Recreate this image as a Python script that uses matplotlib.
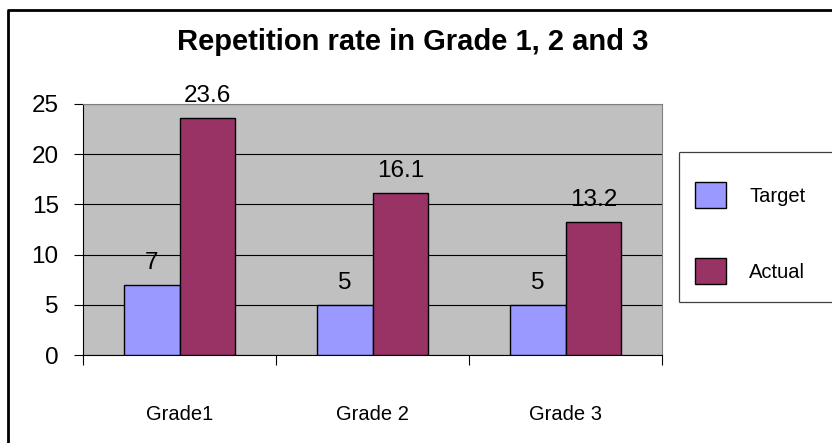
import matplotlib
matplotlib.use("Agg")
import matplotlib.pyplot as plt
from matplotlib.lines import Line2D
from matplotlib.patches import Rectangle
import numpy as np

categories = ["Grade1", "Grade 2", "Grade 3"]
target = [7, 5, 5]
actual = [23.6, 16.1, 13.2]
series_names = ["Target", "Actual"]
yticks = [0, 5, 10, 15, 20, 25]

plt.rcParams['font.family'] = ['Liberation Sans', 'DejaVu Sans']

W, H = 832, 443
fig = plt.figure(figsize=(W / 100, H / 100), dpi=100)
fig.patch.set_facecolor('white')

def fx(px):
    return px / W

def fy(py):
    return 1 - py / H

# plot area in pixels
L, R, T, B = 83, 662, 104, 355
ax = fig.add_axes([fx(L), fy(B), fx(R - L), (B - T) / H])
ax.set_facecolor('#C0C0C0')

x = np.arange(len(categories))
bw = 0.29
b1 = ax.bar(x - bw / 2, target, bw, color='#9999FF', edgecolor='black', linewidth=1.0,
            label=series_names[0], zorder=3)
b2 = ax.bar(x + bw / 2, actual, bw, color='#993366', edgecolor='black', linewidth=1.0,
            label=series_names[1], zorder=3)
ax.bar_label(b1, labels=[f"{v:g}" for v in target], padding=8, fontsize=17.5)
ax.bar_label(b2, labels=[f"{v:g}" for v in actual], padding=8, fontsize=17.5)

ax.set_xlim(-0.5, len(categories) - 0.5)
ax.set_ylim(0, 25)
ax.set_yticks(yticks)
ax.set_yticklabels([str(v) for v in yticks])
ax.tick_params(axis='y', direction='out', length=6.5, width=0.8, pad=11, labelsize=17.5)
ax.yaxis.grid(True, color='black', linewidth=0.8, zorder=1)
ax.set_axisbelow(True)

ax.set_xticks(x)
ax.set_xticklabels(categories)
ax.tick_params(axis='x', which='major', length=0, pad=36, labelsize=14.5)
ax.set_xticks(np.arange(len(categories) + 1) - 0.5, minor=True)
ax.tick_params(axis='x', which='minor', direction='out', length=7.2, width=0.8)

for s in ['left', 'bottom']:
    ax.spines[s].set_color('black')
    ax.spines[s].set_linewidth(0.8)
for s in ['top', 'right']:
    ax.spines[s].set_color('#808080')
    ax.spines[s].set_linewidth(0.8)

# title
fig.text(fx(413), fy(50), "Repetition rate in Grade 1, 2 and 3", ha='center', va='baseline',
         fontsize=21, fontweight='bold')

# legend box: open on the right (runs past the picture edge)
lx0, ly0, ly1 = 679, 152, 302
fig.patches.append(Rectangle((fx(lx0), fy(ly1)), 1.1 - fx(lx0), (ly1 - ly0) / H,
                             transform=fig.transFigure, facecolor='white',
                             edgecolor='none', zorder=1))
box_kw = dict(transform=fig.transFigure, color='#404040', linewidth=0.9, zorder=2,
              solid_capstyle='butt')
fig.add_artist(Line2D([fx(lx0), 1.1], [fy(ly0), fy(ly0)], **box_kw))
fig.add_artist(Line2D([fx(lx0), 1.1], [fy(ly1), fy(ly1)], **box_kw))
fig.add_artist(Line2D([fx(lx0), fx(lx0)], [fy(ly0), fy(ly1)], **box_kw))

leg = fig.legend(handles=[b1, b2], labels=series_names, loc='upper left',
                 bbox_to_anchor=(fx(695), fy(182)), frameon=False, fontsize=14.5,
                 handlelength=1.55, handleheight=1.6, handletextpad=1.15,
                 labelspacing=2.5, borderpad=0, borderaxespad=0)
leg.set_zorder(5)

# outer chart border (left and top visible)
fig.add_artist(Line2D([fx(8), fx(8)], [fy(10), -0.1], transform=fig.transFigure,
                      color='black', linewidth=2, solid_capstyle='butt'))
fig.add_artist(Line2D([fx(8) - 0.0012, 1.1], [fy(10), fy(10)], transform=fig.transFigure,
                      color='black', linewidth=2, solid_capstyle='butt'))

fig.savefig("out.png", dpi=100)
